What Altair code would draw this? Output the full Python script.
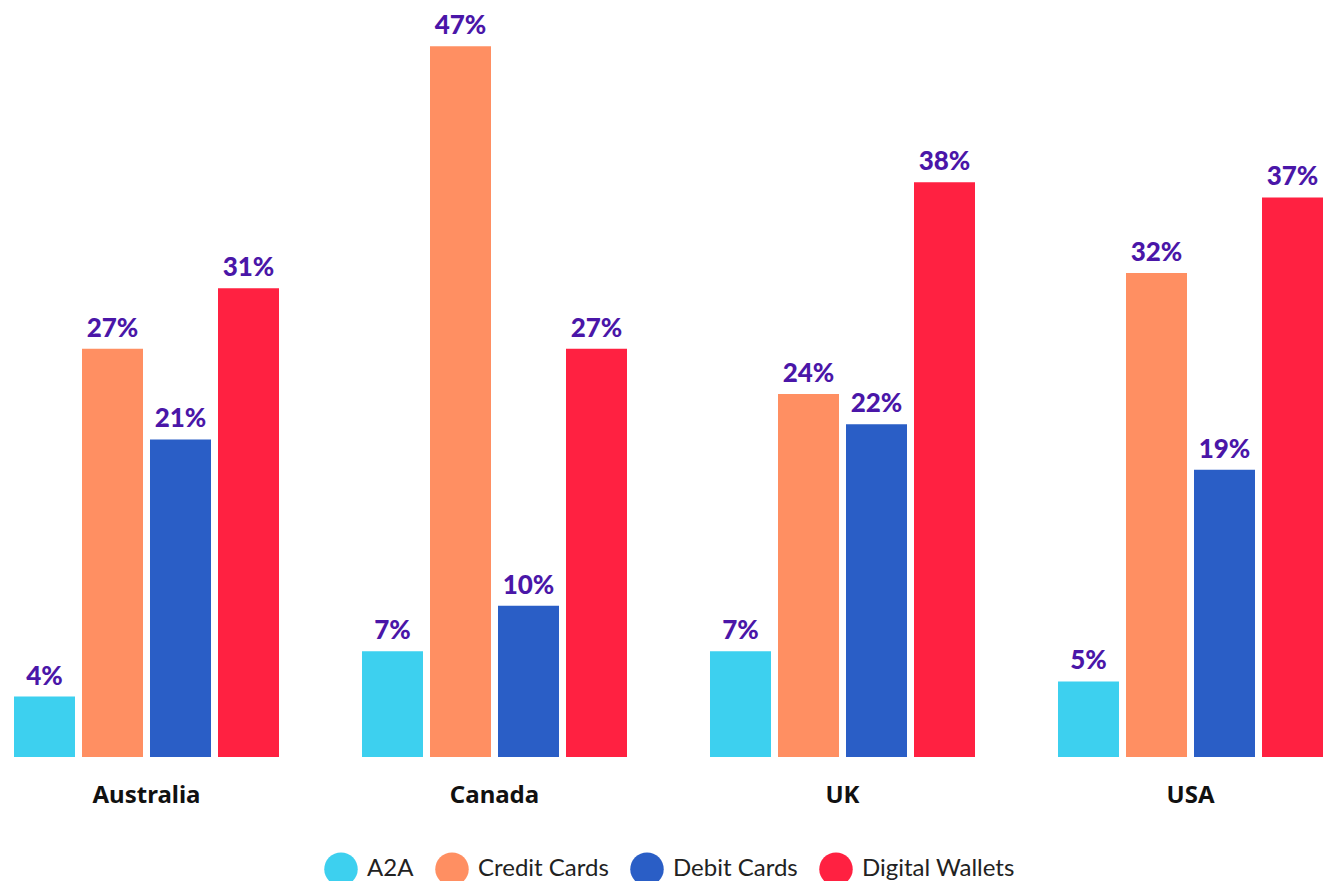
import altair as alt
import pandas as pd

countries = ["Australia", "Canada", "UK", "USA"]
methods = ["A2A", "Credit Cards", "Debit Cards", "Digital Wallets"]
a2a = [4, 7, 7, 5]
credit = [27, 47, 24, 32]
debit = [21, 10, 22, 19]
wallets = [31, 27, 38, 37]
colors = ["#3dd0ef", "#ff8f62", "#2a5ec6", "#ff2141"]

rows = []
for i, c in enumerate(countries):
    for m, vals in zip(methods, [a2a, credit, debit, wallets]):
        rows.append({"country": c, "method": m, "value": vals[i], "label": f"{vals[i]}%"})
df = pd.DataFrame(rows)

FONT = "Lato"

x = alt.X("country:N", sort=countries, title=None,
          scale=alt.Scale(paddingInner=0.2385, paddingOuter=0),
          axis=alt.Axis(labelAngle=0, labelFontSize=24, labelFontWeight="bold",
                        labelColor="#111111", labelFont="Noto Sans", ticks=False, domain=False,
                        labelPadding=26, grid=False))
xo = alt.XOffset("method:N", sort=methods,
                 scale=alt.Scale(paddingInner=0.103, paddingOuter=0))
y = alt.Y("value:Q", scale=alt.Scale(domain=[0, 49]), axis=None)

bars = alt.Chart(df).mark_bar().encode(
    x=x, xOffset=xo, y=y,
    color=alt.Color("method:N", sort=methods,
                    scale=alt.Scale(domain=methods, range=colors),
                    legend=alt.Legend(title=None, orient="none", direction="horizontal",
                                      legendX=310, legendY=836,
                                      symbolType="circle", symbolSize=1120,
                                      symbolStrokeWidth=0, labelFontSize=24,
                                      labelFont=FONT, labelColor="#222222",
                                      labelOffset=9, columnPadding=21)),
)

text = alt.Chart(df).mark_text(baseline="alphabetic", dy=-12, fontSize=26,
                               fontWeight=900, font=FONT, color="#4a16a8").encode(
    x=x, xOffset=xo, y=y, text="label:N")

chart = (bars + text).properties(
    width=1309, height=741,
    autosize=alt.AutoSizeParams(type="none"),
    padding={"left": 6, "top": 8, "right": 1, "bottom": 124},
).configure_view(stroke=None)

chart.save("out.html", embed_options={"renderer": "svg", "actions": False})
